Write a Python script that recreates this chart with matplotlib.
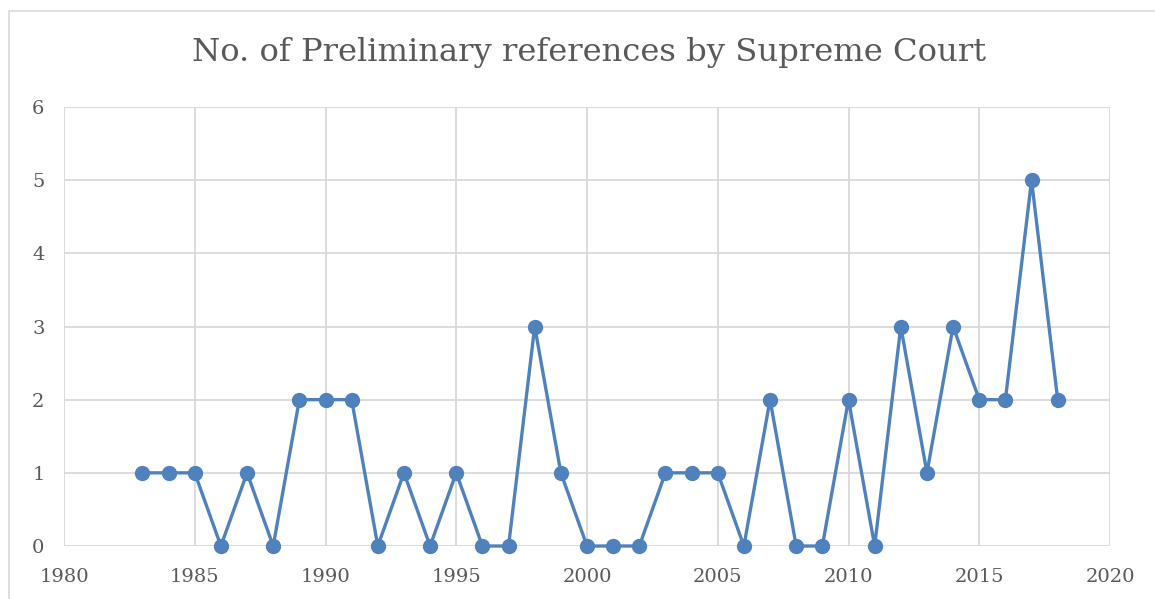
import matplotlib as mpl; mpl.use("Agg")
import matplotlib.pyplot as plt
from matplotlib.patches import Rectangle

years = [1983, 1984, 1985, 1986, 1987, 1988, 1989, 1990, 1991, 1992, 1993, 1994,
         1995, 1996, 1997, 1998, 1999, 2000, 2001, 2002, 2003, 2004, 2005, 2006,
         2007, 2008, 2009, 2010, 2011, 2012, 2013, 2014, 2015, 2016, 2017, 2018]
refs = [1, 1, 1, 0, 1, 0, 2, 2, 2, 0, 1, 0,
        1, 0, 0, 3, 1, 0, 0, 0, 1, 1, 1, 0,
        2, 0, 0, 2, 0, 3, 1, 3, 2, 2, 5, 2]

BLUE = "#4f81bd"
GRID = "#d9d9d9"
TXT = "#595959"

plt.rcParams["font.family"] = ["DejaVu Serif"]

fig = plt.figure(figsize=(11.55, 5.99), dpi=100)
W, H = 1155, 599
# outer chart frame (cropped on right/bottom)
fig.patches.append(Rectangle((9 / W, -0.1), 1.2, 1 - 11 / H + 0.1, transform=fig.transFigure,
                             fill=False, ec=GRID, lw=1.2))

ax = fig.add_axes([64 / W, 1 - 546 / H, (1110 - 64) / W, (546 - 107) / H])
ax.plot(years, refs, color=BLUE, lw=2.4, marker="o", ms=10, zorder=3, clip_on=False)

ax.set_xlim(1980, 2020)
ax.set_ylim(0, 6)
ax.set_xticks(range(1980, 2021, 5))
ax.set_yticks(range(0, 7))
ax.grid(color=GRID, lw=1.3)
for s in ax.spines.values():
    s.set_visible(False)
ax.tick_params(length=0, labelsize=14, labelcolor=TXT)
ax.tick_params(axis="y", pad=14)
ax.tick_params(axis="x", pad=16)

fig.text(589 / W, 1 - 53 / H, "No. of Preliminary references by Supreme Court",
         ha="center", va="center", fontsize=23.2, color=TXT)

fig.savefig("out.png", dpi=100, facecolor="white")
